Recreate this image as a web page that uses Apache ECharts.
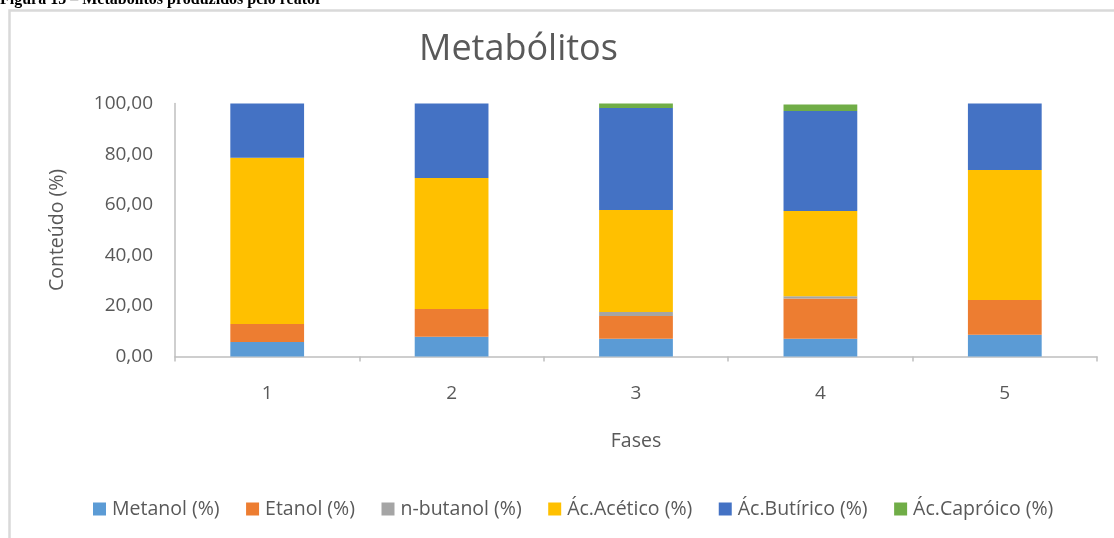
<!DOCTYPE html>
<html>
<head>
<meta charset="utf-8">
<title>Metabólitos</title>
<script src="https://cdn.jsdelivr.net/npm/echarts@6/dist/echarts.min.js"></script>
<style>
  html, body { margin: 0; padding: 0; background: #ffffff; }
  #chart { width: 1114px; height: 538px; }
</style>
</head>
<body>
<div id="chart"></div>
<script>
// Fases do reator
const fases = ['1', '2', '3', '4', '5'];

// Conteúdo de cada metabólito por fase (%)
const metanol   = [5.7, 7.8, 7.0, 7.0, 8.6];
const etanol    = [7.1, 11.0, 9.0, 15.9, 13.7];
const nButanol  = [0.0, 0.0, 1.6, 0.9, 0.0];
const acAcetico = [65.8, 51.8, 40.3, 33.7, 51.4];
const acButirico = [21.4, 29.4, 40.3, 39.5, 26.3];
const acCaproico = [0.0, 0.0, 1.8, 2.6, 0.0];

const seriesNames = ['Metanol (%)', 'Etanol (%)', 'n-butanol (%)', 'Ác.Acético (%)', 'Ác.Butírico (%)', 'Ác.Capróico (%)'];
const seriesData = [metanol, etanol, nButanol, acAcetico, acButirico, acCaproico];
const seriesColors = ['#5B9BD5', '#ED7D31', '#A5A5A5', '#FFC000', '#4472C4', '#70AD47'];

const FONT = '"Open Sans", Lato, sans-serif';
const TEXT_COLOR = '#595959';

const chart = echarts.init(document.getElementById('chart'), null, { renderer: 'canvas' });

chart.setOption({
  animation: false,
  backgroundColor: '#ffffff',
  textStyle: { fontFamily: FONT },
  graphic: [
    {
      type: 'rect',
      shape: { x: 9.5, y: 10.5, width: 1120, height: 600 },
      style: { fill: 'none', stroke: '#d9d9d9', lineWidth: 2.5 },
      silent: true
    },
    {
      type: 'text',
      left: 0,
      top: -8,
      style: {
        text: 'Figura 15 – Metabólitos produzidos pelo reator',
        font: 'bold 16px "Liberation Serif", "Times New Roman", serif',
        fill: '#000000'
      },
      silent: true
    }
  ],
  title: {
    text: 'Metabólitos',
    left: 419,
    top: 32,
    padding: 0,
    textStyle: { fontFamily: FONT, fontSize: 36, fontWeight: 'normal', color: TEXT_COLOR }
  },
  legend: {
    bottom: 14,
    left: 88,
    icon: 'rect',
    itemWidth: 13,
    itemHeight: 13,
    itemGap: 26.5,
    textStyle: { fontFamily: FONT, fontSize: 19.5, color: TEXT_COLOR, padding: [0, 0, 0, 1] },
    data: seriesNames
  },
  grid: {
    left: 175,
    right: 17,
    top: 103.5,
    bottom: 181.5,
    containLabel: false
  },
  xAxis: {
    type: 'category',
    data: fases,
    name: 'Fases',
    nameLocation: 'middle',
    nameGap: 75,
    nameTextStyle: { fontFamily: FONT, fontSize: 19.5, color: TEXT_COLOR },
    axisLine: { lineStyle: { color: '#bfbfbf', width: 1.5 } },
    axisTick: { show: true, length: 5, alignWithLabel: false, lineStyle: { color: '#bfbfbf', width: 1.5 } },
    axisLabel: { fontFamily: FONT, fontSize: 19, color: TEXT_COLOR, margin: 28 },
    splitLine: { show: false }
  },
  yAxis: {
    type: 'value',
    min: 0,
    max: 100,
    interval: 20,
    name: 'Conteúdo (%)',
    nameLocation: 'middle',
    nameGap: 108,
    nameRotate: 90,
    nameTextStyle: { fontFamily: FONT, fontSize: 19.5, color: TEXT_COLOR },
    axisLine: { show: true, lineStyle: { color: '#bfbfbf', width: 1.5 } },
    axisTick: { show: false },
    axisLabel: {
      fontFamily: FONT,
      fontSize: 19,
      color: TEXT_COLOR,
      margin: 22,
      formatter: v => v.toFixed(2).replace('.', ',')
    },
    splitLine: { show: false }
  },
  series: seriesNames.map((name, i) => ({
    name: name,
    type: 'bar',
    stack: 'total',
    barWidth: '40%',
    itemStyle: { color: seriesColors[i] },
    data: seriesData[i]
  }))
});
</script>
</body>
</html>
